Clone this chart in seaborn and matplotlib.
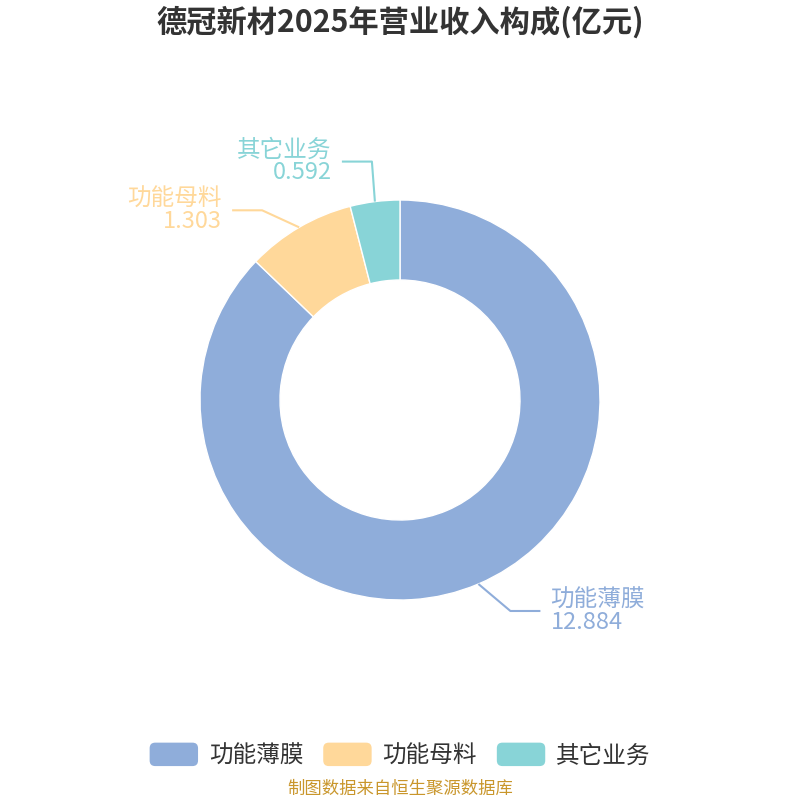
import numpy as np
import seaborn as sns
import matplotlib.pyplot as plt
from matplotlib.patches import FancyBboxPatch, Patch
from matplotlib.legend_handler import HandlerPatch

sns.set_theme(style="white")
plt.rcParams['font.family'] = ['Noto Sans CJK SC', 'DejaVu Sans']

# data
names = ['功能薄膜', '功能母料', '其它业务']
values = [12.884, 1.303, 0.592]
colors = ['#8FADDA', '#FFD89A', '#88D4D7']
title = '德冠新材2025年营业收入构成(亿元)'
source = '制图数据来自恒生聚源数据库'

# leader line elbows relative to slice anchor (pixels, y up)
elbow_off = [(32, -27), (-37, 17), (-3, 40)]

fig = plt.figure(figsize=(8, 8), dpi=100)
ax = fig.add_axes([0, 0, 1, 1])

wedges, _ = ax.pie(values, colors=colors, startangle=90, counterclock=False,
                   radius=200, center=(0, 0),
                   wedgeprops=dict(width=80, edgecolor='white', linewidth=1))
# pie() resets the limits, so set them afterwards
ax.set_xlim(-400, 400)
ax.set_ylim(-400, 400)
ax.set_aspect('equal')
ax.axis('off')

for w, name, val, c, (dx, dy) in zip(wedges, names, values, colors, elbow_off):
    mid = np.deg2rad((w.theta1 + w.theta2) / 2)
    ax0, ay0 = 200 * np.cos(mid), 200 * np.sin(mid)
    ex, ey = ax0 + dx, ay0 + dy
    side = 1 if np.cos(mid) >= 0 else -1
    hx = ex + side * 30
    ax.plot([ax0, ex, hx], [ay0, ey, ey], color=c, lw=1.5, solid_capstyle='butt')
    ax.text(hx + side * 10, ey, f'{name}\n{val:.3f}', color=c, fontsize=17,
            ha='left' if side > 0 else 'right', va='center',
            multialignment='left' if side > 0 else 'right', linespacing=0.95)


class RoundHandler(HandlerPatch):
    def create_artists(self, legend, orig_handle, xdescent, ydescent,
                       width, height, fontsize, trans):
        p = FancyBboxPatch((-xdescent, -ydescent), width, height,
                           boxstyle='round,pad=0,rounding_size=4',
                           facecolor=orig_handle.get_facecolor(),
                           edgecolor='none', transform=trans)
        return [p]


handles = [Patch(facecolor=c, label=n) for n, c in zip(names, colors)]
fig.legend(handles=handles, loc='center', bbox_to_anchor=(0.5, 1 - 755 / 800),
           ncol=3, frameon=False, fontsize=17, handlelength=2.05,
           handleheight=1.15, handletextpad=0.45, columnspacing=0.85,
           labelcolor='#333333',
           handler_map={Patch: RoundHandler()})

fig.text(0.5, 1 - 22 / 800, title, ha='center', va='center', fontsize=21.8,
         fontweight='bold', color='#333333')
fig.text(0.5, 1 - 789 / 800, source, ha='center', va='center', fontsize=12.5,
         color='#C9962B')

plt.savefig('out.png', dpi=100)
